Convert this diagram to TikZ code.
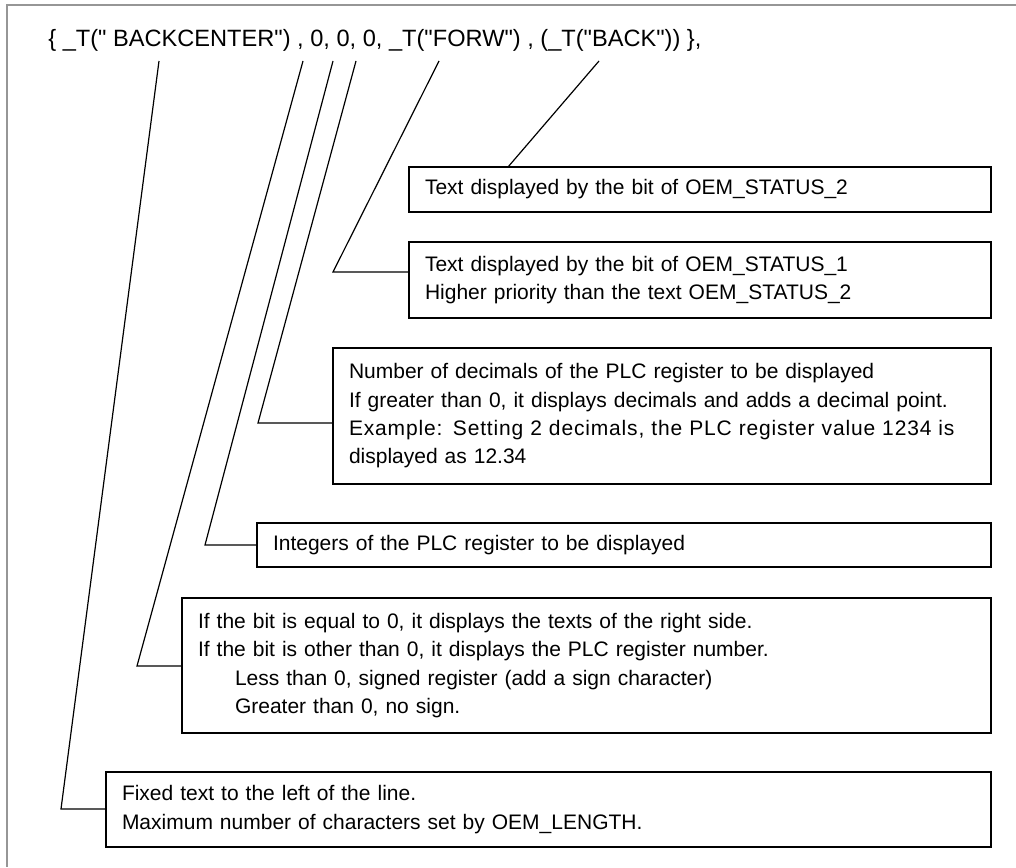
\documentclass[tikz,border=0pt]{standalone}
\usepackage{fontspec}
\setmainfont{Liberation Sans}
\definecolor{framegray}{RGB}{150,150,150}
\newcommand\dq{\textquotedbl}
\begin{document}
\begin{tikzpicture}[x=0.5pt,y=-0.5pt,
	note/.style={draw,line width=1pt,anchor=north west,outer sep=0pt,
		inner xsep=8pt,inner ysep=0pt,align=left,
		font=\fontsize{10.5}{14.15}\selectfont},
	link/.style={line width=0.6pt}]
	\useasboundingbox(0,0)rectangle(1016,867);
	\draw[framegray,line width=1pt](1016,5)--(7,5)--(7,867);
	% the table entry
	\node[anchor=base west,inner sep=0pt,font=\fontsize{11.8}{14}\selectfont](code)at(48,46)
		{\{ \_T(\dq{} BACKCENTER\dq) , 0, 0, 0, \_T(\dq FORW\dq) , (\_T(\dq BACK\dq)) \},};
	% notes
	\node[note,text width=275pt,minimum height=22.5pt](st2)at(409,167)
		{Text displayed by the bit of OEM\_STATUS\_2};
	\node[note,text width=275pt,minimum height=38pt](st1)at(409,242)
		{Text displayed by the bit of OEM\_STATUS\_1\\
		Higher priority than the text OEM\_STATUS\_2};
	\node[note,text width=313pt,minimum height=68pt](dec)at(333,348)
		{Number of decimals of the PLC register to be displayed\\
		If greater than 0, it displays decimals and adds a decimal point.\\
		\makebox[\linewidth][s]{\addfontfeature{LetterSpace=4}Example: Setting 2 decimals, the PLC register value 1234 is}\\
		displayed as 12.34};
	\node[note,text width=351pt,minimum height=22pt](int)at(257,523)
		{Integers of the PLC register to be displayed};
	\node[note,text width=388.5pt,minimum height=67.5pt](bit)at(182,598)
		{If the bit is equal to 0, it displays the texts of the right side.\\
		If the bit is other than 0, it displays the PLC register number.\\
		\hspace*{18.5pt}Less than 0, signed register (add a sign character)\\
		\hspace*{18.5pt}Greater than 0, no sign.};
	\node[note,text width=426.5pt,minimum height=37.5pt](fix)at(106,772)
		{Fixed text to the left of the line.\\
		Maximum number of characters set by OEM\_LENGTH.};
	% leaders
	\coordinate(tA)at(159,61);\coordinate(kA)at(61,809);
	\coordinate(tB)at(303,61);\coordinate(kB)at(137,666);
	\coordinate(tC)at(333,61);\coordinate(kC)at(205,545);
	\coordinate(tD)at(356,61);\coordinate(kD)at(258,423);
	\coordinate(tE)at(439,61);\coordinate(kE)at(333,272);
	\coordinate(tF)at(599,61);\coordinate(kF)at(508,167);
	\draw[link](tA)--(kA)--(kA-|fix.west);
	\draw[link](tB)--(kB)--(kB-|bit.west);
	\draw[link](tC)--(kC)--(kC-|int.west);
	\draw[link](tD)--(kD)--(kD-|dec.west);
	\draw[link](tE)--(kE)--(kE-|st1.west);
	\draw[link](tF)--(kF|-st2.north);
\end{tikzpicture}
\end{document}
